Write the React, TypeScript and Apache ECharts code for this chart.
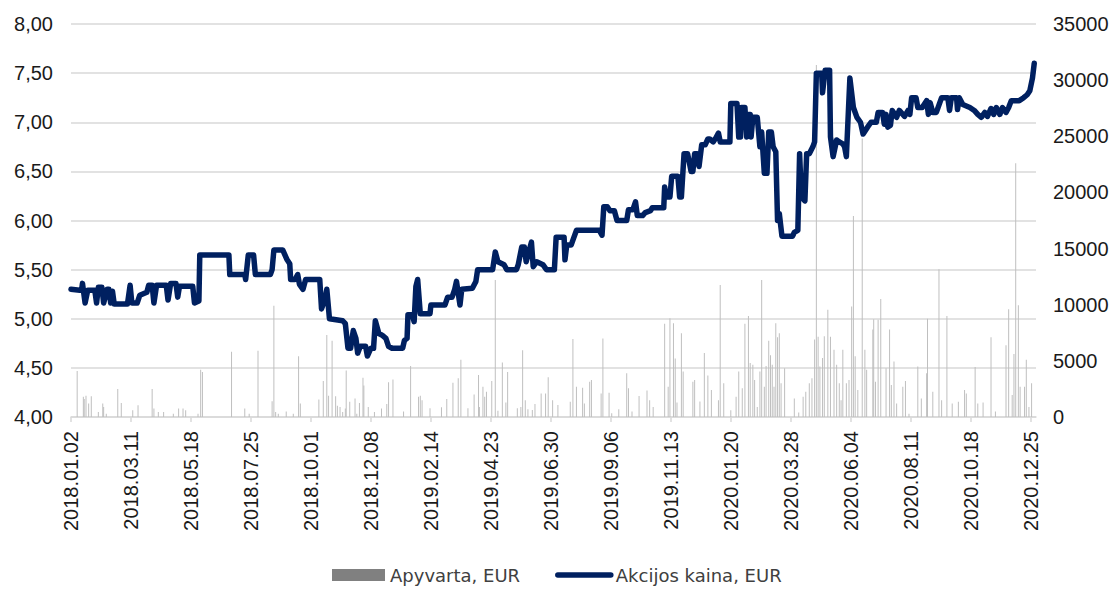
import React, { useEffect, useRef } from "react";
import * as echarts from "echarts";

// Calendar categories: every day from 2018-01-02 to 2020-12-31
const FIRST_DAY = "2018-01-02";
const LAST_DAY = "2020-12-31";

const price2018: [string, number][] = [
  ["2018-01-02", 5.3], ["2018-01-12", 5.29], ["2018-01-14", 5.29], ["2018-01-15", 5.36], ["2018-01-18", 5.16],
  ["2018-01-21", 5.29], ["2018-01-29", 5.29], ["2018-01-31", 5.16], ["2018-02-02", 5.32], ["2018-02-06", 5.32],
  ["2018-02-08", 5.16], ["2018-02-12", 5.3], ["2018-02-14", 5.3], ["2018-02-16", 5.16], ["2018-02-18", 5.28],
  ["2018-02-20", 5.15], ["2018-03-07", 5.15], ["2018-03-10", 5.34], ["2018-03-12", 5.16], ["2018-03-18", 5.16],
  ["2018-03-21", 5.24], ["2018-03-29", 5.27], ["2018-03-31", 5.34], ["2018-04-04", 5.34], ["2018-04-06", 5.16],
  ["2018-04-09", 5.34], ["2018-04-20", 5.34], ["2018-04-22", 5.19], ["2018-04-25", 5.36], ["2018-05-01", 5.36],
  ["2018-05-03", 5.22], ["2018-05-05", 5.33], ["2018-05-20", 5.33], ["2018-05-22", 5.16], ["2018-05-27", 5.18],
  ["2018-05-28", 5.65],
  ["2018-06-30", 5.65], ["2018-07-01", 5.45], ["2018-07-18", 5.45], ["2018-07-19", 5.4], ["2018-07-22", 5.65],
  ["2018-07-28", 5.65], ["2018-07-30", 5.45], ["2018-08-16", 5.45], ["2018-08-18", 5.5], ["2018-08-20", 5.7],
  ["2018-08-30", 5.7], ["2018-09-04", 5.6], ["2018-09-07", 5.56], ["2018-09-08", 5.4], ["2018-09-13", 5.4],
  ["2018-09-16", 5.45], ["2018-09-18", 5.35], ["2018-09-22", 5.3], ["2018-09-25", 5.4], ["2018-10-11", 5.4],
  ["2018-10-13", 5.1], ["2018-10-17", 5.2], ["2018-10-19", 5.3], ["2018-10-22", 5.0], ["2018-11-06", 4.98],
  ["2018-11-09", 4.95], ["2018-11-12", 4.7], ["2018-11-15", 4.7], ["2018-11-18", 4.88], ["2018-11-21", 4.8],
  ["2018-11-23", 4.65], ["2018-11-26", 4.72], ["2018-12-02", 4.72], ["2018-12-04", 4.62], ["2018-12-08", 4.7],
  ["2018-12-11", 4.7], ["2018-12-13", 4.98], ["2018-12-17", 4.85], ["2018-12-21", 4.83], ["2018-12-25", 4.8],
  ["2018-12-28", 4.72],
];

const price2019: [string, number][] = [
  ["2019-01-01", 4.7], ["2019-01-13", 4.7], ["2019-01-15", 4.78], ["2019-01-18", 4.8], ["2019-01-19", 5.04],
  ["2019-01-24", 5.04], ["2019-01-26", 4.97], ["2019-01-28", 5.33], ["2019-01-30", 5.4], ["2019-02-02", 5.05],
  ["2019-02-13", 5.05], ["2019-02-14", 5.14], ["2019-03-02", 5.14], ["2019-03-05", 5.22], ["2019-03-10", 5.22],
  ["2019-03-13", 5.3], ["2019-03-15", 5.38], ["2019-03-19", 5.14], ["2019-03-21", 5.3], ["2019-04-02", 5.31],
  ["2019-04-06", 5.38], ["2019-04-08", 5.5], ["2019-04-25", 5.5], ["2019-04-28", 5.68], ["2019-05-01", 5.58],
  ["2019-05-08", 5.55], ["2019-05-11", 5.5], ["2019-05-22", 5.5], ["2019-05-24", 5.55], ["2019-05-28", 5.73],
  ["2019-05-31", 5.73], ["2019-06-02", 5.58], ["2019-06-05", 5.68], ["2019-06-08", 5.78], ["2019-06-10", 5.53],
  ["2019-06-14", 5.58], ["2019-06-21", 5.55], ["2019-06-25", 5.5], ["2019-07-04", 5.5], ["2019-07-06", 5.83],
  ["2019-07-15", 5.83], ["2019-07-16", 5.6], ["2019-07-18", 5.75], ["2019-07-23", 5.75], ["2019-07-25", 5.8],
  ["2019-07-29", 5.9], ["2019-08-24", 5.9], ["2019-08-27", 5.85], ["2019-08-29", 6.14], ["2019-09-02", 6.14],
  ["2019-09-05", 6.1], ["2019-09-10", 6.1], ["2019-09-13", 6.0], ["2019-09-24", 6.0], ["2019-09-26", 6.11],
  ["2019-10-01", 6.11], ["2019-10-04", 6.19], ["2019-10-06", 6.05], ["2019-10-12", 6.05], ["2019-10-15", 6.08],
  ["2019-10-21", 6.1], ["2019-10-23", 6.13], ["2019-11-05", 6.13], ["2019-11-06", 6.34], ["2019-11-08", 6.24],
  ["2019-11-12", 6.24], ["2019-11-14", 6.45], ["2019-11-21", 6.45], ["2019-11-23", 6.24], ["2019-11-25", 6.24],
  ["2019-11-28", 6.68], ["2019-12-02", 6.68], ["2019-12-06", 6.5], ["2019-12-08", 6.5], ["2019-12-10", 6.68],
  ["2019-12-13", 6.68], ["2019-12-15", 6.55], ["2019-12-18", 6.77], ["2019-12-22", 6.77], ["2019-12-25", 6.83],
  ["2019-12-27", 6.83], ["2019-12-31", 6.8],
];

const price2020: [string, number][] = [
  ["2020-01-03", 6.84], ["2020-01-06", 6.89], ["2020-01-08", 6.8], ["2020-01-19", 6.8], ["2020-01-20", 7.19],
  ["2020-01-27", 7.19], ["2020-01-29", 6.85], ["2020-01-31", 6.85], ["2020-02-01", 7.15], ["2020-02-05", 7.15],
  ["2020-02-07", 6.85], ["2020-02-09", 7.08], ["2020-02-11", 7.08], ["2020-02-12", 6.85], ["2020-02-14", 7.05],
  ["2020-02-19", 7.05], ["2020-02-22", 6.75], ["2020-02-24", 6.9], ["2020-02-27", 6.48], ["2020-03-01", 6.48],
  ["2020-03-03", 6.9], ["2020-03-06", 6.9], ["2020-03-08", 6.75], ["2020-03-11", 6.7], ["2020-03-13", 6.0],
  ["2020-03-15", 6.07], ["2020-03-18", 5.84], ["2020-03-30", 5.84], ["2020-04-01", 5.88], ["2020-04-05", 5.9],
  ["2020-04-07", 6.68], ["2020-04-09", 6.24], ["2020-04-13", 6.2], ["2020-04-15", 6.68], ["2020-04-18", 6.68],
  ["2020-04-22", 6.75], ["2020-04-24", 6.8], ["2020-04-26", 7.5], ["2020-05-02", 7.5], ["2020-05-03", 7.3],
  ["2020-05-06", 7.53], ["2020-05-11", 7.53], ["2020-05-12", 6.85], ["2020-05-15", 6.65], ["2020-05-19", 6.82],
  ["2020-05-22", 6.8], ["2020-05-26", 6.78], ["2020-05-28", 6.75], ["2020-05-30", 6.65], ["2020-06-03", 7.45],
  ["2020-06-07", 7.15], ["2020-06-11", 7.05], ["2020-06-15", 7.0], ["2020-06-18", 6.88], ["2020-06-23", 6.95],
  ["2020-06-27", 7.0], ["2020-07-03", 7.0], ["2020-07-05", 7.1], ["2020-07-10", 7.1], ["2020-07-12", 6.98],
  ["2020-07-14", 7.08], ["2020-07-16", 6.95], ["2020-07-19", 6.97], ["2020-07-21", 7.12], ["2020-07-26", 7.05],
  ["2020-07-29", 7.12], ["2020-08-04", 7.06], ["2020-08-08", 7.12], ["2020-08-10", 7.08], ["2020-08-12", 7.25],
  ["2020-08-17", 7.25], ["2020-08-19", 7.15], ["2020-08-24", 7.15], ["2020-08-29", 7.22], ["2020-08-31", 7.08],
  ["2020-09-02", 7.2], ["2020-09-05", 7.1], ["2020-09-09", 7.1], ["2020-09-15", 7.25], ["2020-09-22", 7.25],
  ["2020-09-24", 7.12], ["2020-09-26", 7.25], ["2020-10-02", 7.25], ["2020-10-03", 7.13], ["2020-10-05", 7.25],
  ["2020-10-09", 7.18], ["2020-10-17", 7.15], ["2020-10-22", 7.12], ["2020-10-26", 7.08], ["2020-10-30", 7.05],
  ["2020-11-03", 7.1], ["2020-11-06", 7.06], ["2020-11-10", 7.14], ["2020-11-13", 7.08], ["2020-11-16", 7.15],
  ["2020-11-20", 7.08], ["2020-11-23", 7.15], ["2020-11-27", 7.1], ["2020-11-30", 7.15], ["2020-12-03", 7.22],
  ["2020-12-12", 7.22], ["2020-12-17", 7.25], ["2020-12-21", 7.28], ["2020-12-24", 7.32], ["2020-12-27", 7.45],
  ["2020-12-29", 7.6],
];

const turnover2018: [string, number][] = [
  ["2018-01-09", 4100], ["2018-01-16", 1800], ["2018-01-17", 1600], ["2018-01-19", 1900], ["2018-01-22", 1200],
  ["2018-01-25", 1850], ["2018-02-02", 450], ["2018-02-07", 1200], ["2018-02-08", 900], ["2018-02-11", 300],
  ["2018-02-24", 2500], ["2018-02-28", 1250], ["2018-03-13", 600], ["2018-03-19", 1050], ["2018-04-04", 2500],
  ["2018-04-06", 750], ["2018-04-11", 450], ["2018-04-17", 450], ["2018-04-28", 300], ["2018-05-04", 750],
  ["2018-05-09", 750], ["2018-05-12", 600], ["2018-05-26", 300], ["2018-05-29", 4200], ["2018-05-31", 4000],
  ["2018-07-03", 5800], ["2018-07-18", 750], ["2018-07-23", 300], ["2018-08-02", 5900], ["2018-08-18", 1400],
  ["2018-08-20", 9900], ["2018-08-22", 450], ["2018-08-25", 300], ["2018-09-03", 500], ["2018-09-11", 300],
  ["2018-09-17", 5400], ["2018-09-19", 1200], ["2018-10-10", 1550], ["2018-10-15", 3200], ["2018-10-19", 7300],
  ["2018-10-21", 1900], ["2018-10-25", 6800], ["2018-10-29", 1850], ["2018-10-31", 1000], ["2018-11-03", 900],
  ["2018-11-06", 450], ["2018-11-09", 750], ["2018-11-10", 4150], ["2018-11-14", 1350], ["2018-11-20", 1650],
  ["2018-11-22", 300], ["2018-11-25", 1250], ["2018-11-29", 3500], ["2018-11-30", 2800], ["2018-12-05", 900],
  ["2018-12-12", 450], ["2018-12-20", 750], ["2018-12-26", 1150], ["2018-12-28", 3100],
];

const turnover2019: [string, number][] = [
  ["2019-01-02", 3350], ["2019-01-14", 480], ["2019-01-22", 4550], ["2019-01-31", 1800], ["2019-02-02", 1900],
  ["2019-02-04", 1500], ["2019-02-13", 770], ["2019-02-26", 860], ["2019-03-04", 1600], ["2019-03-11", 3050],
  ["2019-03-17", 3450], ["2019-03-20", 5100], ["2019-03-28", 770], ["2019-04-04", 2000], ["2019-04-09", 3750],
  ["2019-04-10", 900], ["2019-04-14", 2700], ["2019-04-16", 1800], ["2019-04-18", 2250], ["2019-04-24", 3200],
  ["2019-04-28", 12200], ["2019-05-01", 560], ["2019-05-06", 4850], ["2019-05-10", 1300], ["2019-05-12", 4000],
  ["2019-05-23", 770], ["2019-05-27", 900], ["2019-05-29", 5950], ["2019-06-01", 1500], ["2019-06-04", 680],
  ["2019-06-09", 620], ["2019-06-12", 1150], ["2019-06-19", 2100], ["2019-06-24", 2100], ["2019-06-27", 3550],
  ["2019-07-02", 1500], ["2019-07-08", 1070], ["2019-07-22", 1350], ["2019-07-25", 6950], ["2019-07-29", 2700],
  ["2019-08-05", 2600], ["2019-08-07", 1200], ["2019-08-13", 3150], ["2019-08-15", 3300], ["2019-08-26", 2100],
  ["2019-08-28", 7000], ["2019-09-04", 2150], ["2019-09-07", 330], ["2019-09-15", 680], ["2019-09-24", 3900],
  ["2019-09-26", 2550], ["2019-09-30", 500], ["2019-10-08", 1870], ["2019-10-17", 2350], ["2019-10-20", 1500],
  ["2019-10-24", 900], ["2019-11-06", 8300], ["2019-11-10", 2700], ["2019-11-12", 8800], ["2019-11-16", 8350],
  ["2019-11-18", 5200], ["2019-11-20", 1300], ["2019-11-25", 7450], ["2019-11-27", 4050], ["2019-12-08", 3150],
  ["2019-12-10", 3300], ["2019-12-16", 1370], ["2019-12-21", 5700], ["2019-12-25", 3700], ["2019-12-29", 2400],
];

const turnover2020: [string, number][] = [
  ["2020-01-06", 1500], ["2020-01-08", 11750], ["2020-01-12", 3000], ["2020-01-20", 600], ["2020-01-26", 1800],
  ["2020-01-29", 4050], ["2020-02-02", 2550], ["2020-02-05", 8300], ["2020-02-09", 9000], ["2020-02-11", 4800],
  ["2020-02-14", 4650], ["2020-02-16", 3300], ["2020-02-19", 900], ["2020-02-22", 4050], ["2020-02-24", 12200],
  ["2020-02-27", 2700], ["2020-02-29", 4550], ["2020-03-03", 6800], ["2020-03-05", 5500], ["2020-03-07", 4650],
  ["2020-03-09", 2700], ["2020-03-11", 8350], ["2020-03-13", 7100], ["2020-03-15", 7450], ["2020-03-17", 3000],
  ["2020-03-21", 4350], ["2020-04-01", 1650], ["2020-04-06", 400], ["2020-04-11", 1800], ["2020-04-14", 2250],
  ["2020-04-18", 3000], ["2020-04-21", 3450], ["2020-04-24", 6900], ["2020-04-26", 31350], ["2020-04-28", 7150],
  ["2020-04-30", 4500], ["2020-05-03", 5250], ["2020-05-05", 7200], ["2020-05-09", 9550], ["2020-05-12", 7150],
  ["2020-05-16", 6000], ["2020-05-19", 4650], ["2020-05-22", 3000], ["2020-05-24", 1500], ["2020-05-26", 6000],
  ["2020-05-30", 3000], ["2020-06-02", 3300], ["2020-06-05", 9850], ["2020-06-07", 17900], ["2020-06-09", 5400],
  ["2020-06-12", 2400], ["2020-06-17", 24800], ["2020-06-20", 6000], ["2020-06-22", 4200], ["2020-06-29", 7800],
  ["2020-06-30", 8700], ["2020-07-02", 3150], ["2020-07-05", 8650], ["2020-07-08", 10500], ["2020-07-14", 4350],
  ["2020-07-18", 7800], ["2020-07-20", 2850], ["2020-07-23", 4950], ["2020-07-26", 1200], ["2020-08-02", 2700],
  ["2020-08-05", 3200], ["2020-08-09", 300], ["2020-08-19", 4500], ["2020-08-23", 1650], ["2020-08-29", 3900],
  ["2020-08-30", 8750], ["2020-09-05", 2250], ["2020-09-12", 13150], ["2020-09-15", 1500], ["2020-09-21", 9000],
  ["2020-09-27", 1200], ["2020-10-04", 1350], ["2020-10-11", 2400], ["2020-10-13", 2100], ["2020-10-23", 4450],
  ["2020-10-26", 1200], ["2020-11-01", 1300], ["2020-11-10", 7100], ["2020-11-15", 480], ["2020-11-27", 6400],
  ["2020-11-30", 9600], ["2020-12-04", 1950], ["2020-12-06", 5600], ["2020-12-08", 22600], ["2020-12-11", 9950],
  ["2020-12-13", 2700], ["2020-12-18", 2700], ["2020-12-20", 5100], ["2020-12-23", 900], ["2020-12-26", 3000],
];

const SERIES_TURNOVER = "Apyvarta, EUR";
const SERIES_PRICE = "Akcijos kaina, EUR";

function buildDays(first: string, last: string): string[] {
  const out: string[] = [];
  const d = new Date(first + "T00:00:00Z");
  const end = new Date(last + "T00:00:00Z");
  while (d.getTime() <= end.getTime()) {
    out.push(d.toISOString().slice(0, 10));
    d.setUTCDate(d.getUTCDate() + 1);
  }
  return out;
}

export default function App() {
  const ref = useRef<HTMLDivElement | null>(null);

  useEffect(() => {
    if (!ref.current) return;
    const chart = echarts.init(ref.current, undefined, { renderer: "svg" });
    const days = buildDays(FIRST_DAY, LAST_DAY);
    const index: Record<string, number> = {};
    days.forEach((d, i) => (index[d] = i));
    const price = [...price2018, ...price2019, ...price2020].map(([d, v]) => [index[d], v]);
    const turnover = [...turnover2018, ...turnover2019, ...turnover2020].map(([d, v]) => [index[d], v]);

    const axisFont = { fontFamily: "Liberation Sans, Arial, sans-serif", fontSize: 20, color: "#1a1a1a" };

    chart.setOption({
      animation: false,
      grid: { left: 71, right: 77, top: 24, bottom: 172, containLabel: false },
      legend: {
        left: 327,
        top: 561,
        padding: 5,
        itemWidth: 53,
        itemHeight: 12,
        itemGap: 35,
        data: [
          { name: SERIES_TURNOVER, icon: "rect", itemStyle: { color: "#808080" } },
          {
            name: SERIES_PRICE,
            itemStyle: { opacity: 0 },
            lineStyle: { color: "#002060", width: 5.5, cap: "round" },
          },
        ],
        textStyle: { fontFamily: "DejaVu Sans, sans-serif", fontSize: 18, color: "#404040" },
      },
      xAxis: {
        type: "category",
        data: days,
        boundaryGap: false,
        axisLine: { lineStyle: { color: "#d9d9d9", width: 1.5 } },
        axisTick: { interval: 67, length: 5, lineStyle: { color: "#d9d9d9", width: 1.5 } },
        axisLabel: {
          ...axisFont,
          interval: 67,
          rotate: 90,
          margin: 14,
          formatter: (v: string) => v.replace(/-/g, "."),
        },
        splitLine: { show: false },
      },
      yAxis: [
        {
          type: "value",
          min: 4,
          max: 8,
          interval: 0.5,
          axisLine: { show: false },
          axisTick: { show: false },
          splitLine: { lineStyle: { color: "#d9d9d9", width: 1.5 } },
          axisLabel: { ...axisFont, margin: 18, formatter: (v: number) => v.toFixed(2).replace(".", ",") },
        },
        {
          type: "value",
          min: 0,
          max: 35000,
          interval: 5000,
          axisLine: { show: false },
          axisTick: { show: false },
          splitLine: { show: false },
          axisLabel: { ...axisFont, margin: 17, formatter: (v: number) => String(v) },
        },
      ],
      series: [
        {
          name: SERIES_TURNOVER,
          type: "bar",
          yAxisIndex: 1,
          data: turnover,
          barWidth: 1,
          itemStyle: { color: "#bfbfbf" },
        },
        {
          name: SERIES_PRICE,
          type: "line",
          yAxisIndex: 0,
          data: price,
          symbol: "none",
          showSymbol: false,
          lineStyle: { color: "#002060", width: 5.5, cap: "round", join: "round" },
          itemStyle: { color: "#002060" },
          z: 3,
        },
      ],
    });

    return () => chart.dispose();
  }, []);

  return (
    <div
      ref={ref}
      style={{ position: "fixed", left: 0, top: 0, width: 1113, height: 589, background: "#fff" }}
    />
  );
}
